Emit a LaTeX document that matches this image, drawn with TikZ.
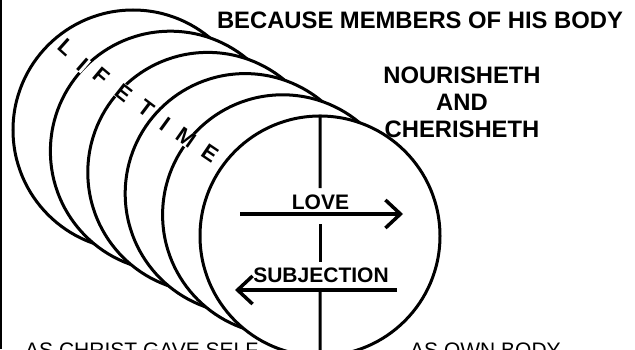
\documentclass[tikz,border=0pt]{standalone}
\usepackage{fontspec}
\setmainfont{Liberation Sans}
\usetikzlibrary{arrows.meta}

\begin{document}
\begin{tikzpicture}[x=1pt, y=1pt,
  disc/.style={circle, draw, fill=white, line width=3pt, minimum size=240pt, inner sep=0pt},
  ltr/.style={fill=white, inner sep=0.5pt, font=\fontsize{22}{22}\selectfont\bfseries},
  heading/.style={font=\fontsize{23.8}{27}\selectfont\bfseries, align=center, inner sep=0pt},
  lbl/.style={font=\fontsize{21}{21}\selectfont\bfseries, inner sep=0pt},
  foot/.style={font=\fontsize{21}{21}\selectfont, inner sep=0pt, anchor=base west},
  arr/.style={line width=3.5pt, -{Straight Barb[length=15pt, width=28pt]}},
  axis/.style={line width=3pt}
]
  \useasboundingbox (0,0) rectangle (635,349);
  \clip (0,0) rectangle (635,349);
  \draw[line width=2.5pt] (1.2,0) -- (1.2,349);

  % stacked discs, back to front
  \foreach \i in {1,...,6}
    \node[disc] (c\i) at ({133+(\i-1)*37.4}, {219-(\i-1)*21.2}) {};

  % lifetime, one letter at a time
  \node[ltr, rotate=-42] (lt1) at (67,302) {L};
  \node[ltr, rotate=-41] (lt2) at (83,284) {I};
  \node[ltr, rotate=-40] (lt3) at (102,273) {F};
  \node[ltr, rotate=-38] (lt4) at (124,256) {E};
  \node[ltr, rotate=-37] (lt5) at (146,241) {T};
  \node[ltr, rotate=-36] (lt6) at (165,225) {I};
  \node[ltr, rotate=-35] (lt7) at (186,211) {M};
  \node[ltr, rotate=-34] (lt8) at (210,196) {E};

  % cross in the front disc
  \coordinate (v1) at (320,161);
  \coordinate (v2) at (320,125);
  \coordinate (v3) at (320,87);
  \coordinate (v4) at (320,57);
  \draw[axis] (c6.north) -- (v1);
  \draw[axis] (v2) -- (v3);
  \draw[axis] (v4) -- (c6.south);

  \coordinate (lovefrom) at (240,135);
  \coordinate (loveto) at (403,135);
  \draw[arr] (lovefrom) -- (loveto);
  \node[lbl, anchor=base] (love) at (320.5,139.7) {LOVE};

  \coordinate (subfrom) at (397,59);
  \coordinate (subto) at (235,59);
  \draw[arr] (subfrom) -- (subto);
  \node[lbl, anchor=base] (subj) at (321,66.3) {SUBJECTION};

  \node[heading, anchor=base] (members) at (420,320.5) {BECAUSE MEMBERS OF HIS BODY};
  \node[heading, anchor=north] (nourish) at (462,282) {NOURISHETH\\AND\\CHERISHETH};
  \node[foot] (gave) at (25,-8) {AS CHRIST GAVE SELF};
  \node[foot] (own) at (410,-8) {AS OWN BODY};
\end{tikzpicture}
\end{document}
